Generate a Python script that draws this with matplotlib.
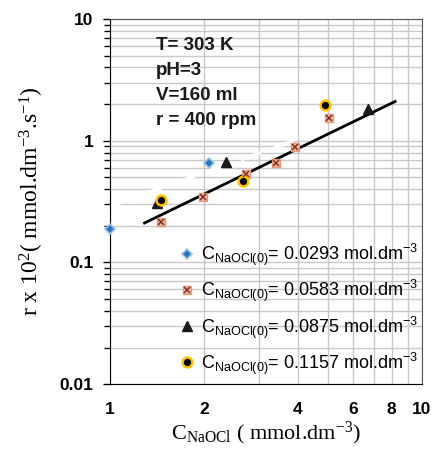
import matplotlib
matplotlib.use("Agg")
import matplotlib.pyplot as plt
from matplotlib.ticker import FixedLocator, NullFormatter, FixedFormatter, LogLocator

# data
x_0293 = [1.00, 2.08]
y_0293 = [0.19, 0.656]
x_0583 = [1.46, 1.98, 2.72, 3.40, 3.92, 5.05]
y_0583 = [0.213, 0.342, 0.532, 0.656, 0.881, 1.54]
x_0875 = [1.41, 2.35, 6.73]
y_0875 = [0.308, 0.672, 1.82]
x_1157 = [1.46, 2.66, 4.89]
y_1157 = [0.326, 0.469, 1.96]
fit_x = [1.29, 8.2]
fit_y = [0.211, 2.10]
hidden_x = [1.0, 3.9]
hidden_y = [0.29, 1.0]

x_ticks = [1, 2, 4, 6, 8, 10]
y_ticks = [0.01, 0.1, 1, 10]
y_ticklabels = ["0.01", "0.1", "1", "10"]
labels = [
    r"C$\mathregular{_{NaOCl(0)}}$= 0.0293 mol.dm$\mathregular{^{-3}}$",
    r"C$\mathregular{_{NaOCl(0)}}$= 0.0583 mol.dm$\mathregular{^{-3}}$",
    r"C$\mathregular{_{NaOCl(0)}}$= 0.0875 mol.dm$\mathregular{^{-3}}$",
    r"C$\mathregular{_{NaOCl(0)}}$= 0.1157 mol.dm$\mathregular{^{-3}}$",
]
conditions = "T= 303 K\npH=3\nV=160 ml\nr = 400 rpm"

plt.rcParams["font.family"] = ["Liberation Sans", "DejaVu Sans"]

fig = plt.figure(figsize=(4.35, 4.53), dpi=100)
ax = fig.add_axes([0.253, 0.152, 0.717, 0.806])
ax.set_xscale("log")
ax.set_yscale("log")
ax.set_xlim(1, 10)
ax.set_ylim(0.01, 10)

grid = "#c8c8c8"
ax.xaxis.set_major_locator(FixedLocator(x_ticks))
ax.xaxis.set_major_formatter(FixedFormatter([str(t) for t in x_ticks]))
ax.xaxis.set_minor_locator(FixedLocator([3, 5, 7, 9]))
ax.xaxis.set_minor_formatter(NullFormatter())
ax.yaxis.set_major_locator(FixedLocator(y_ticks))
ax.yaxis.set_major_formatter(FixedFormatter(y_ticklabels))
ax.yaxis.set_minor_locator(LogLocator(base=10, subs=range(2, 10)))
ax.yaxis.set_minor_formatter(NullFormatter())
ax.grid(True, which="both", color=grid, lw=1.0)
ax.set_axisbelow(True)

ax.tick_params(axis="x", which="both", length=0, pad=13, labelsize=12.5)
ax.tick_params(axis="y", which="major", length=5, width=1, pad=7, labelsize=12.5)
ax.tick_params(axis="y", which="minor", length=4, width=1)
for lab in ax.get_xticklabels() + ax.get_yticklabels():
    lab.set_fontweight("bold")
for side in ("top", "right"):
    ax.spines[side].set_color("#555555")
for side in ("left", "bottom"):
    ax.spines[side].set_color("black")

ax.plot(hidden_x, hidden_y, color="white", lw=2.5, ls=(0, (6, 4)), zorder=1.5)
ax.plot(fit_x, fit_y, color="black", lw=2, zorder=3)

h1, = ax.plot(x_0293, y_0293, ls="none", marker="D", ms=5.5, mfc="#2e75b6",
              mec="#9dc3e6", mew=1.2, zorder=4, clip_on=False)
sq, = ax.plot(x_0583, y_0583, ls="none", marker="s", ms=6, mfc="#f4b8a0",
              mec="#e8967a", mew=1, zorder=4)
xx, = ax.plot(x_0583, y_0583, ls="none", marker="x", ms=4, mec="#7f3020",
              mew=1.1, zorder=5)
h3, = ax.plot(x_0875, y_0875, ls="none", marker="^", ms=6.5, mfc="#1a1a1a",
              mec="#1a1a1a", zorder=4)
h4, = ax.plot(x_1157, y_1157, ls="none", marker="o", ms=7, mfc="black",
              mec="#ffc000", mew=1.8, zorder=4)

ax.text(0.147, 0.95, conditions, transform=ax.transAxes, ha="left", va="top",
        fontsize=13.5, fontweight="bold", linespacing=1.6, color="#1a1a1a")

ax.legend([h1, (sq, xx), h3, h4], labels, loc="upper left",
          bbox_to_anchor=(0.225, 0.39), frameon=False, fontsize=13,
          handlelength=0.7, handletextpad=0.45, labelspacing=0.55,
          borderaxespad=0, borderpad=0)

ax.set_xlabel(r"C$\mathregular{_{NaOCl}}$ ( mmol.dm$\mathregular{^{-3}}$)",
              family="Liberation Serif", fontsize=16, labelpad=2)
ax.set_ylabel(r"r x 10$\mathregular{^2}$( mmol.dm$\mathregular{^{-3}}$.s$\mathregular{^{-1}}$)",
              family="Liberation Serif", fontsize=17, labelpad=10)

fig.savefig("out.png", dpi=100, facecolor="white")
